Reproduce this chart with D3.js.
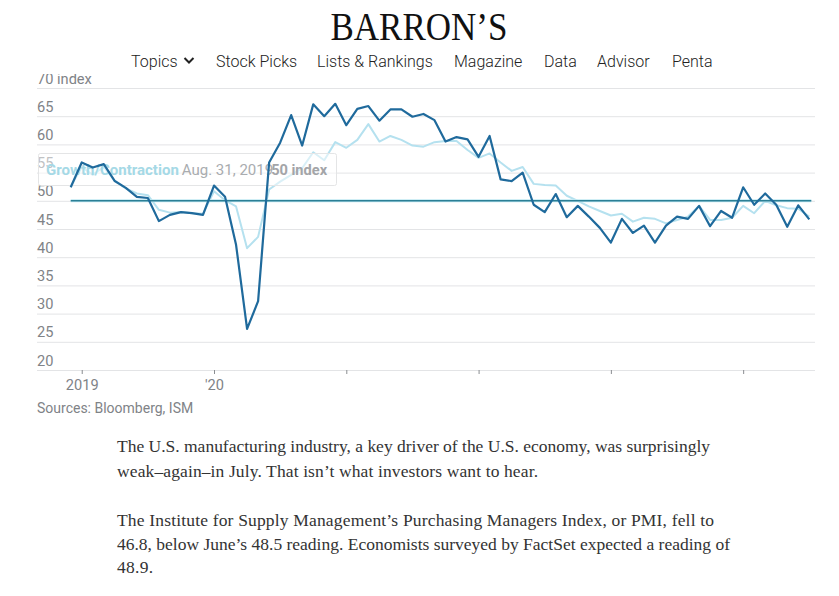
<!DOCTYPE html>
<html>
<head>
<meta charset="utf-8">
<script src="https://cdn.jsdelivr.net/npm/d3@7"></script>
<style>
  html, body { margin: 0; padding: 0; background: #fff; }
  svg { display: block; }
  text { font-family: Roboto, sans-serif; }
  .tick-label { font-size: 14.6px; fill: #808387; font-weight: 400; }
  .nav { font-size: 16px; fill: #222; font-weight: 300; }
  .copy { font-family: "Liberation Serif", serif; font-size: 17.5px; fill: #333; }
</style>
</head>
<body>
<svg id="chart" width="839" height="596"></svg>
<script>
(function () {
  const W = 839, H = 596;

  // Dec 2018 - Jul 2024, monthly
  const PMI = [52.4, 56.8, 55.9, 56.5, 53.5, 52.3, 50.7, 50.5, 46.4, 47.5, 48, 47.8,
    47.5, 52.7, 50.7, 42.2, 27.3, 32.2, 56.8, 60.3, 65.2, 59.8, 67.1, 65,
    67.2, 63.4, 66.3, 66.8, 64.2, 66.2, 66.2, 64.9, 65.4, 64.3, 60.5, 61.3,
    60.9, 57.8, 61.5, 53.8, 53.5, 55, 49.3, 48, 51.2, 47.1, 49.1, 47.2,
    45.2, 42.6, 46.8, 44.3, 45.6, 42.6, 45.6, 47.2, 46.8, 49.1, 45.5, 48.2,
    47, 52.4, 49.3, 51.3, 49.3, 45.4, 49.2, 46.7];
  const EXPECTED = [52.4, 56, 54.6, 56, 53.5, 52.2, 51.3, 51, 48.4, 47.9, 48, 47.8,
    47.7, 51.7, 50.1, 49, 41.6, 43.6, 52, 53.4, 54.6, 55.8, 58.6, 57.2,
    60.4, 59.4, 60.8, 63.6, 60.5, 61.5, 60.8, 59.8, 59.6, 60.4, 60.6, 60.6,
    59, 57.6, 58.4, 56.8, 55.3, 56, 53, 52.8, 52.7, 50.9, 50, 49, 48.2, 47.4,
    47.7, 46.3, 47, 46.8, 46, 46.6, 47.2, 49.1, 46.6, 46.6, 47, 49.1, 47.8,
    50, 49.2, 48.7, 48.6, 47.2];
  const Y_TICKS = [20, 25, 30, 35, 40, 45, 50, 55, 60, 65, 70];
  const X_TICKS = [1, 13, 25, 37, 49, 61];
  const X_LABELS = ['2019', "'20", '', '', '', ''];
  const REF_VALUE = 50;
  const NAV_ITEMS = ['Topics', 'Stock Picks', 'Lists & Rankings', 'Magazine', 'Data', 'Advisor', 'Penta'];
  const NAV_X = [131, 216, 317, 454, 544, 597, 672];
  const COPY = [
    'The U.S. manufacturing industry, a key driver of the U.S. economy, was surprisingly',
    'weak\u2013again\u2013in July. That isn\u2019t what investors want to hear.',
    'The Institute for Supply Management\u2019s Purchasing Managers Index, or PMI, fell to',
    '46.8, below June\u2019s 48.5 reading. Economists surveyed by FactSet expected a reading of',
    '48.9.'
  ];
  const COPY_Y = [452, 477, 526, 550, 573];
  const COPY_W = [593, 421, 597, 613, 36];

  const svg = d3.select('#chart').attr('viewBox', `0 0 ${W} ${H}`);
  svg.append('rect').attr('width', W).attr('height', H).attr('fill', '#fff');

  const x = d3.scaleLinear().domain([0, PMI.length - 1]).range([70.7, 809.3]);
  const y = d3.scaleLinear().domain([20, 70]).range([370, 88]);

  // y axis: gridlines with the labels sitting on top of them
  const yAxis = svg.append('g').attr('transform', 'translate(815,0)')
    .call(d3.axisLeft(y).tickValues(Y_TICKS).tickSize(778).tickFormat(d => d));
  yAxis.select('.domain').remove();
  yAxis.selectAll('line').attr('stroke', '#e3e4e6');
  yAxis.selectAll('text')
    .attr('class', 'tick-label')
    .attr('text-anchor', 'start')
    .attr('x', -778)
    .attr('dy', -5)
    .text(d => d === 70 ? '70 index' : d);

  // x axis
  const xAxis = svg.append('g').attr('transform', `translate(0,${y(20)})`)
    .call(d3.axisBottom(x).tickValues(X_TICKS).tickSize(4)
      .tickFormat((d, i) => X_LABELS[i]));
  xAxis.select('.domain').remove();
  xAxis.selectAll('line').attr('stroke', '#8a8d91');
  xAxis.selectAll('text').attr('class', 'tick-label').attr('y', 10).attr('dy', '0.71em');

  const line = d3.line().x((d, i) => x(i)).y(d => y(d));

  svg.append('path').datum(EXPECTED)
    .attr('fill', 'none').attr('stroke', '#b5e1ef').attr('stroke-width', 2)
    .attr('stroke-linejoin', 'round').attr('d', line);

  // hover label, washes out the light line behind it
  svg.append('rect')
    .attr('x', 38.5).attr('y', 153.5).attr('width', 298).attr('height', 32).attr('rx', 2)
    .attr('fill', 'rgba(255,255,255,0.5)').attr('stroke', '#e4e5e6');
  const label = svg.append('text').attr('x', 46).attr('y', 175).style('font-size', '15px');
  label.append('tspan').attr('fill', '#a5d9e6').attr('font-weight', 700).text('Growth/Contraction');
  label.append('tspan').attr('dx', 3).attr('fill', '#a9acaf').text('Aug. 31, 2019');
  label.append('tspan').attr('dx', -2).attr('fill', '#a3a5a8').attr('font-weight', 700)
    .style('font-size', '14.6px').text('50 index');

  // 50 = growth / contraction line
  svg.append('line')
    .attr('x1', x(0)).attr('x2', x(PMI.length - 1) + 2)
    .attr('y1', y(REF_VALUE)).attr('y2', y(REF_VALUE))
    .attr('stroke', '#bfe8f2').attr('stroke-width', 3);
  svg.append('line')
    .attr('x1', x(0)).attr('x2', x(PMI.length - 1) + 2)
    .attr('y1', y(REF_VALUE)).attr('y2', y(REF_VALUE))
    .attr('stroke', '#2b7f95').attr('stroke-width', 1.6);

  svg.append('path').datum(PMI)
    .attr('fill', 'none').attr('stroke', '#1f6a9c').attr('stroke-width', 2.2)
    .attr('stroke-linejoin', 'round').attr('d', line);

  svg.append('text').attr('class', 'tick-label').attr('x', 37).attr('y', 413)
    .style('font-size', '14px').text('Sources: Bloomberg, ISM');

  // page header sits over the chart and clips the top label
  svg.append('rect').attr('width', W).attr('height', 74).attr('fill', '#fff');
  svg.append('text')
    .attr('x', 419).attr('y', 40).attr('text-anchor', 'middle')
    .attr('textLength', 177).attr('lengthAdjust', 'spacingAndGlyphs')
    .style('font-family', '"Liberation Serif", serif').style('font-size', '41px')
    .attr('fill', '#111').text('BARRON\u2019S');
  svg.selectAll('.nav').data(NAV_ITEMS).join('text')
    .attr('class', 'nav')
    .attr('x', (d, i) => NAV_X[i]).attr('y', 67).text(d => d);
  svg.append('path').attr('d', 'M184.5 58 L189 62.5 L193.5 58')
    .attr('fill', 'none').attr('stroke', '#222').attr('stroke-width', 2);

  svg.selectAll('.copy').data(COPY).join('text')
    .attr('class', 'copy').attr('x', 117).attr('y', (d, i) => COPY_Y[i])
    .attr('textLength', (d, i) => COPY_W[i]).attr('lengthAdjust', 'spacing')
    .text(d => d);
})();
</script>
</body>
</html>
